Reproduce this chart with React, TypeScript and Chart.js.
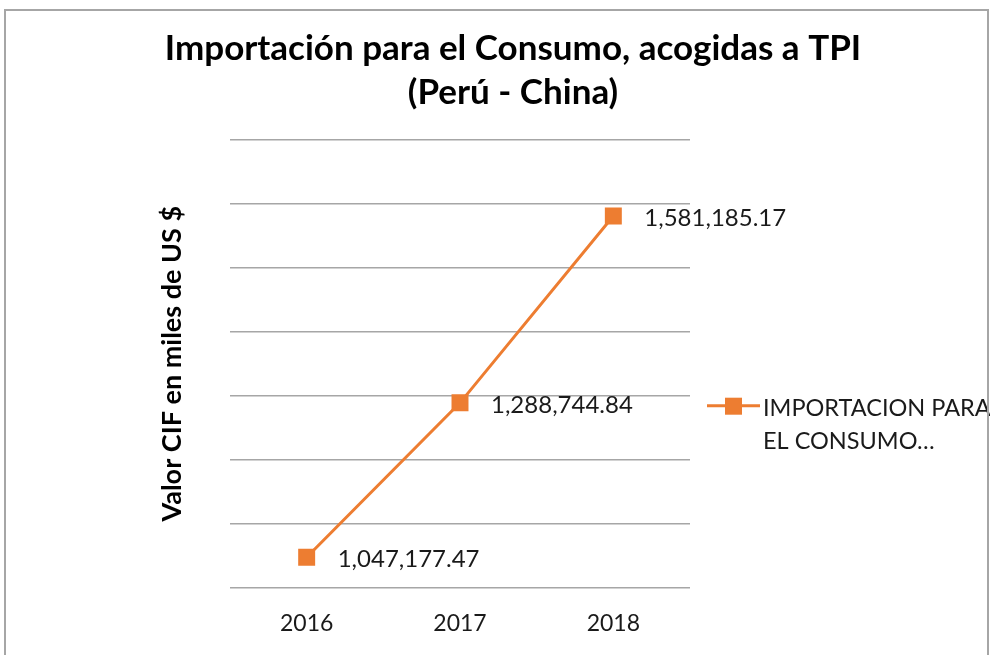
import React, { useEffect, useRef } from "react";
import { Chart, registerables } from "chart.js";

Chart.register(...registerables);

const categories = ["2016", "2017", "2018"];
const values = [1047177.47, 1288744.84, 1581185.17];
const valueLabels = ["1,047,177.47", "1,288,744.84", "1,581,185.17"];
const seriesName = "IMPORTACION PARA EL CONSUMO ACOGIDAS A TPI";
const legendLines = ["IMPORTACION PARA", "EL CONSUMO…"];
const titleLines = ["Importación para el Consumo, acogidas a TPI", "(Perú - China)"];
const yTitle = "Valor CIF en miles de US $";
const yMin = 1000000;
const yMax = 1700000;
const yStep = 100000;

const ORANGE = "#ED7D31";
const FONT = "Lato, 'Open Sans', sans-serif";
const TEXT = "#1a1a1a";

const labelsPlugin = {
  id: "customLabels",
  afterDraw(chart: any) {
    const ctx = chart.ctx;
    const meta = chart.getDatasetMeta(0);
    ctx.save();
    // title
    ctx.fillStyle = "#000";
    ctx.textAlign = "center";
    ctx.textBaseline = "middle";
    ctx.font = `bold 35px ${FONT}`;
    ctx.fillText(titleLines[0], chart.width / 2 + 18, 49);
    ctx.fillText(titleLines[1], chart.width / 2 + 18, 93);
    // data labels
    ctx.font = `24px ${FONT}`;
    ctx.fillStyle = TEXT;
    ctx.textAlign = "left";
    meta.data.forEach((pt: any, i: number) => {
      ctx.fillText(valueLabels[i], pt.x + 31, pt.y + 2);
    });
    // legend
    const ca = chart.chartArea;
    const ly = (ca.top + ca.bottom) / 2 + 42;
    const lx = ca.right + 17;
    ctx.strokeStyle = ORANGE;
    ctx.lineWidth = 3;
    ctx.beginPath();
    ctx.moveTo(lx, ly);
    ctx.lineTo(lx + 53, ly);
    ctx.stroke();
    ctx.fillStyle = ORANGE;
    ctx.fillRect(lx + 18, ly - 8, 17, 17);
    ctx.fillStyle = TEXT;
    ctx.font = `23.5px ${FONT}`;
    ctx.fillText(legendLines[0], lx + 56, ly + 3);
    ctx.fillText(legendLines[1], lx + 56, ly + 36);
    ctx.restore();
  },
};

export default function App() {
  const ref = useRef<HTMLCanvasElement | null>(null);
  useEffect(() => {
    document.body.style.margin = "0";
    const chart = new Chart(ref.current as HTMLCanvasElement, {
      type: "line",
      data: {
        labels: categories,
        datasets: [
          {
            label: seriesName,
            data: values,
            borderColor: ORANGE,
            backgroundColor: ORANGE,
            borderWidth: 3,
            pointStyle: "rect",
            pointRadius: 12,
            pointHoverRadius: 12,
            pointBorderWidth: 0,
            tension: 0,
          },
        ],
      },
      options: {
        animation: false,
        responsive: false,
        maintainAspectRatio: false,
        layout: { padding: { left: 156, right: 300, top: 140, bottom: -4 } },
        plugins: {
          legend: { display: false },
          tooltip: { enabled: false },
          title: { display: false },
        },
        scales: {
          x: {
            offset: true,
            grid: { display: false, drawTicks: false },
            border: { display: false },
            ticks: { color: TEXT, font: { family: FONT, size: 23 }, padding: 22 },
          },
          y: {
            min: yMin,
            max: yMax,
            ticks: { display: false, stepSize: yStep },
            grid: { color: "#a6a6a6", lineWidth: 1.5, drawTicks: false },
            border: { display: false },
            title: {
              display: true,
              text: yTitle,
              color: "#000",
              font: { family: FONT, size: 27, weight: "bold" },
              padding: { top: 0, bottom: 41.6 },
            },
          },
        },
      },
      plugins: [labelsPlugin],
    });
    return () => chart.destroy();
  }, []);
  return (
    <div style={{ position: "relative", width: 990, height: 655, background: "#fff", overflow: "hidden" }}>
      <canvas ref={ref} width={990} height={655} style={{ position: "absolute", left: 0, top: 0 }} />
      <div
        style={{
          position: "absolute",
          left: 4,
          top: 9,
          width: 981,
          height: 700,
          border: "2px solid #a6a6a6",
          pointerEvents: "none",
        }}
      />
    </div>
  );
}
